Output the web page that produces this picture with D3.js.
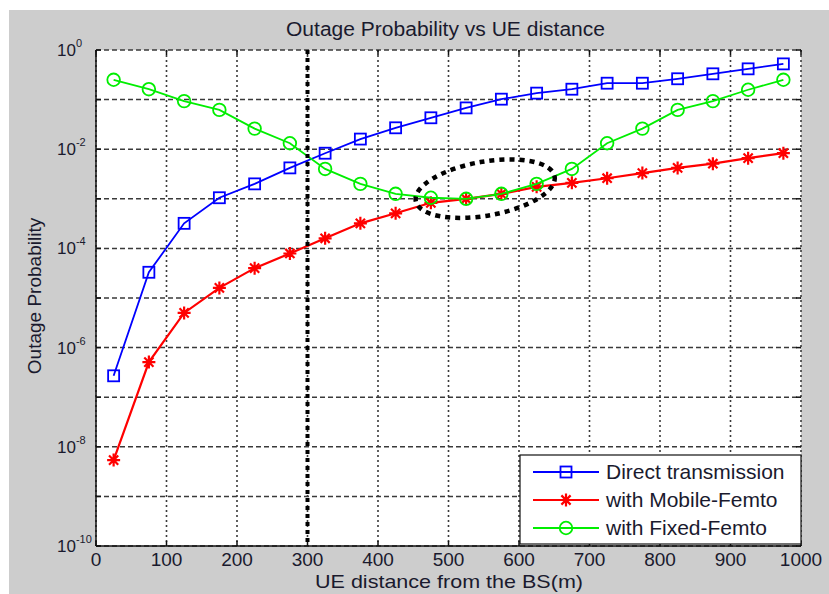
<!DOCTYPE html>
<html>
<head>
<meta charset="utf-8">
<script src="https://cdn.jsdelivr.net/npm/d3@7"></script>
<style>
  html, body { margin: 0; padding: 0; background: #ffffff; }
  svg { display: block; }
  text { font-family: "Liberation Sans", Arial, sans-serif; fill: #1a1a2e; }
</style>
</head>
<body>
<svg id="chart" width="829" height="594"></svg>
<script>
// ---------------- data ----------------
const distance = [25, 75, 125, 175, 225, 275, 325, 375, 425, 475, 525, 575, 625, 675, 725, 775, 825, 875, 925, 975];
const directTransmission = [2.7e-7, 3.3e-5, 3.2e-4, 1.05e-3, 2.0e-3, 4.2e-3, 8.3e-3, 1.6e-2, 2.7e-2, 4.3e-2, 6.8e-2, 0.102, 0.135, 0.162, 0.214, 0.214, 0.263, 0.331, 0.417, 0.525];
const mobileFemto = [5.4e-9, 5.1e-7, 5.0e-6, 1.6e-5, 4.0e-5, 7.9e-5, 1.6e-4, 3.2e-4, 5.1e-4, 8.3e-4, 1.0e-3, 1.26e-3, 1.74e-3, 2.1e-3, 2.6e-3, 3.3e-3, 4.2e-3, 5.1e-3, 6.6e-3, 8.3e-3];
const fixedFemto = [0.251, 0.162, 0.093, 0.062, 0.026, 0.0132, 0.0040, 0.0020, 0.00126, 0.00105, 0.0010, 0.00126, 0.0020, 0.0040, 0.0132, 0.026, 0.062, 0.093, 0.158, 0.251];
const seriesNames = ["Direct transmission", "with Mobile-Femto", "with Fixed-Femto"];
const xTickValues = [0, 100, 200, 300, 400, 500, 600, 700, 800, 900, 1000];
const yTickExponents = [0, -2, -4, -6, -8, -10];
const yGridExponents = [0, -1, -2, -3, -4, -5, -6, -7, -8, -9, -10];
const titleText = "Outage Probability vs UE distance";
const xLabelText = "UE distance from the BS(m)";
const yLabelText = "Outage Probability";
const markerDistance = 300;              // vertical reference line
const ellipseCenter = [552, 1.6e-3];     // annotation ellipse (data coords)
const ellipseHalfWidth = 100;            // in distance units

// ---------------- layout ----------------
const svg = d3.select("#chart");
const W = 829, H = 594;
const plot = { left: 96, right: 801, top: 50, bottom: 546 };

svg.append("rect").attr("x", 0).attr("y", 0).attr("width", W).attr("height", H).attr("fill", "#ffffff");
svg.append("rect").attr("x", 9).attr("y", 10).attr("width", W - 9).attr("height", H - 10).attr("fill", "#cdcdcd");

const x = d3.scaleLinear().domain([0, 1000]).range([plot.left, plot.right]);
const y = d3.scaleLog().domain([1e-10, 1]).range([plot.bottom, plot.top]);

// plot background
svg.append("rect")
  .attr("x", plot.left).attr("y", plot.top)
  .attr("width", plot.right - plot.left).attr("height", plot.bottom - plot.top)
  .attr("fill", "#ffffff");

// grid
const grid = svg.append("g");
grid.selectAll("line.h").data(yGridExponents).join("line")
  .attr("x1", plot.left).attr("x2", plot.right)
  .attr("y1", d => y(Math.pow(10, d))).attr("y2", d => y(Math.pow(10, d)))
  .attr("stroke", "#3a3a3a").attr("stroke-width", 1.5).attr("stroke-dasharray", "5,3");
grid.selectAll("line.v").data(xTickValues).join("line")
  .attr("y1", plot.top).attr("y2", plot.bottom)
  .attr("x1", d => x(d)).attr("x2", d => x(d))
  .attr("stroke", "#3a3a3a").attr("stroke-width", 1.6).attr("stroke-dasharray", "2,3");

// axes (left & bottom solid)
const axisG = svg.append("g");
axisG.append("line").attr("x1", plot.left).attr("x2", plot.left).attr("y1", plot.top).attr("y2", plot.bottom)
  .attr("stroke", "#111").attr("stroke-width", 1.5);
axisG.append("line").attr("x1", plot.left).attr("x2", plot.right).attr("y1", plot.bottom).attr("y2", plot.bottom)
  .attr("stroke", "#111").attr("stroke-width", 1.5);

// ticks (inward) on all sides
const tl = 5;
axisG.selectAll("line.xb").data(xTickValues).join("line")
  .attr("x1", d => x(d)).attr("x2", d => x(d)).attr("y1", plot.bottom).attr("y2", plot.bottom - tl)
  .attr("stroke", "#111").attr("stroke-width", 1.5);
axisG.selectAll("line.xt").data(xTickValues).join("line")
  .attr("x1", d => x(d)).attr("x2", d => x(d)).attr("y1", plot.top).attr("y2", plot.top + tl)
  .attr("stroke", "#111").attr("stroke-width", 1.5);
axisG.selectAll("line.yl").data(yGridExponents).join("line")
  .attr("y1", d => y(Math.pow(10, d))).attr("y2", d => y(Math.pow(10, d))).attr("x1", plot.left).attr("x2", plot.left + tl)
  .attr("stroke", "#111").attr("stroke-width", 1.5);
axisG.selectAll("line.yr").data(yGridExponents).join("line")
  .attr("y1", d => y(Math.pow(10, d))).attr("y2", d => y(Math.pow(10, d))).attr("x1", plot.right).attr("x2", plot.right - tl)
  .attr("stroke", "#111").attr("stroke-width", 1.5);

// x tick labels
svg.append("g").selectAll("text").data(xTickValues).join("text")
  .attr("x", d => x(d)).attr("y", 566)
  .attr("text-anchor", "middle").attr("font-size", 19)
  .text(d => d);

// y tick labels 10^n
const yl = svg.append("g").selectAll("text").data(yTickExponents).join("text")
  .attr("x", 57).attr("y", d => y(Math.pow(10, d)) + 6)
  .attr("font-size", 17);
yl.append("tspan").text("10");
yl.append("tspan").attr("dy", -9).attr("font-size", 11).text(d => d);

// series
const series = [
  { name: seriesNames[0], values: directTransmission, color: "#0000ff", width: 1.8, marker: "square" },
  { name: seriesNames[1], values: mobileFemto, color: "#ff0000", width: 2.2, marker: "star" },
  { name: seriesNames[2], values: fixedFemto, color: "#00ee00", width: 1.8, marker: "circle" }
];

const line = d3.line().x(d => x(d[0])).y(d => y(d[1]));

function drawMarker(g, type, color) {
  if (type === "square") {
    g.append("rect").attr("x", -5.5).attr("y", -5.5).attr("width", 11).attr("height", 11)
      .attr("fill", "none").attr("stroke", color).attr("stroke-width", 1.8);
  } else if (type === "circle") {
    g.append("circle").attr("r", 6.3).attr("fill", "none").attr("stroke", color).attr("stroke-width", 1.8);
  } else {
    g.append("path").attr("d", "M-6.5,0H6.5M0,-6.5V6.5M-4.6,-4.6L4.6,4.6M-4.6,4.6L4.6,-4.6")
      .attr("stroke", color).attr("stroke-width", 2.2).attr("fill", "none");
  }
}

const seriesG = svg.append("g");
series.forEach(s => {
  const pts = distance.map((d, i) => [d, s.values[i]]);
  seriesG.append("path").datum(pts).attr("d", line)
    .attr("fill", "none").attr("stroke", s.color).attr("stroke-width", s.width);
  pts.forEach(p => {
    const g = seriesG.append("g").attr("transform", `translate(${x(p[0])},${y(p[1])})`);
    drawMarker(g, s.marker, s.color);
  });
});

// vertical reference line
svg.append("line")
  .attr("x1", x(markerDistance)).attr("x2", x(markerDistance))
  .attr("y1", plot.top).attr("y2", plot.bottom)
  .attr("stroke", "#000").attr("stroke-width", 4).attr("stroke-dasharray", "4,4");

// annotation ellipse
const ecx = x(ellipseCenter[0]), ecy = y(ellipseCenter[1]);
const erx = x(ellipseCenter[0] + ellipseHalfWidth) - ecx;
svg.append("ellipse")
  .attr("cx", ecx).attr("cy", ecy).attr("rx", erx).attr("ry", 27)
  .attr("transform", `rotate(-10,${ecx},${ecy})`)
  .attr("fill", "none").attr("stroke", "#000").attr("stroke-width", 4.5).attr("stroke-dasharray", "5,5");

// legend
const lg = svg.append("g");
lg.append("rect").attr("x", 520).attr("y", 455).attr("width", 281).attr("height", 89)
  .attr("fill", "#ffffff").attr("stroke", "#111").attr("stroke-width", 1.2);
series.forEach((s, i) => {
  const cy = 472 + i * 28;
  lg.append("line").attr("x1", 533).attr("x2", 599).attr("y1", cy).attr("y2", cy)
    .attr("stroke", s.color).attr("stroke-width", s.width);
  const g = lg.append("g").attr("transform", `translate(566,${cy})`);
  drawMarker(g, s.marker, s.color);
  lg.append("text").attr("x", 606).attr("y", cy + 7).attr("font-size", 21).text(s.name);
});

// title and axis labels
svg.append("text").attr("x", 445.5).attr("y", 36).attr("text-anchor", "middle")
  .attr("font-size", 20).attr("textLength", 319).attr("lengthAdjust", "spacingAndGlyphs").text(titleText);
svg.append("text").attr("x", 449).attr("y", 588).attr("text-anchor", "middle")
  .attr("font-size", 19).attr("textLength", 268).attr("lengthAdjust", "spacingAndGlyphs").text(xLabelText);
svg.append("text").attr("transform", "translate(41,296) rotate(-90)").attr("text-anchor", "middle")
  .attr("font-size", 19).text(yLabelText);
</script>
</body>
</html>
